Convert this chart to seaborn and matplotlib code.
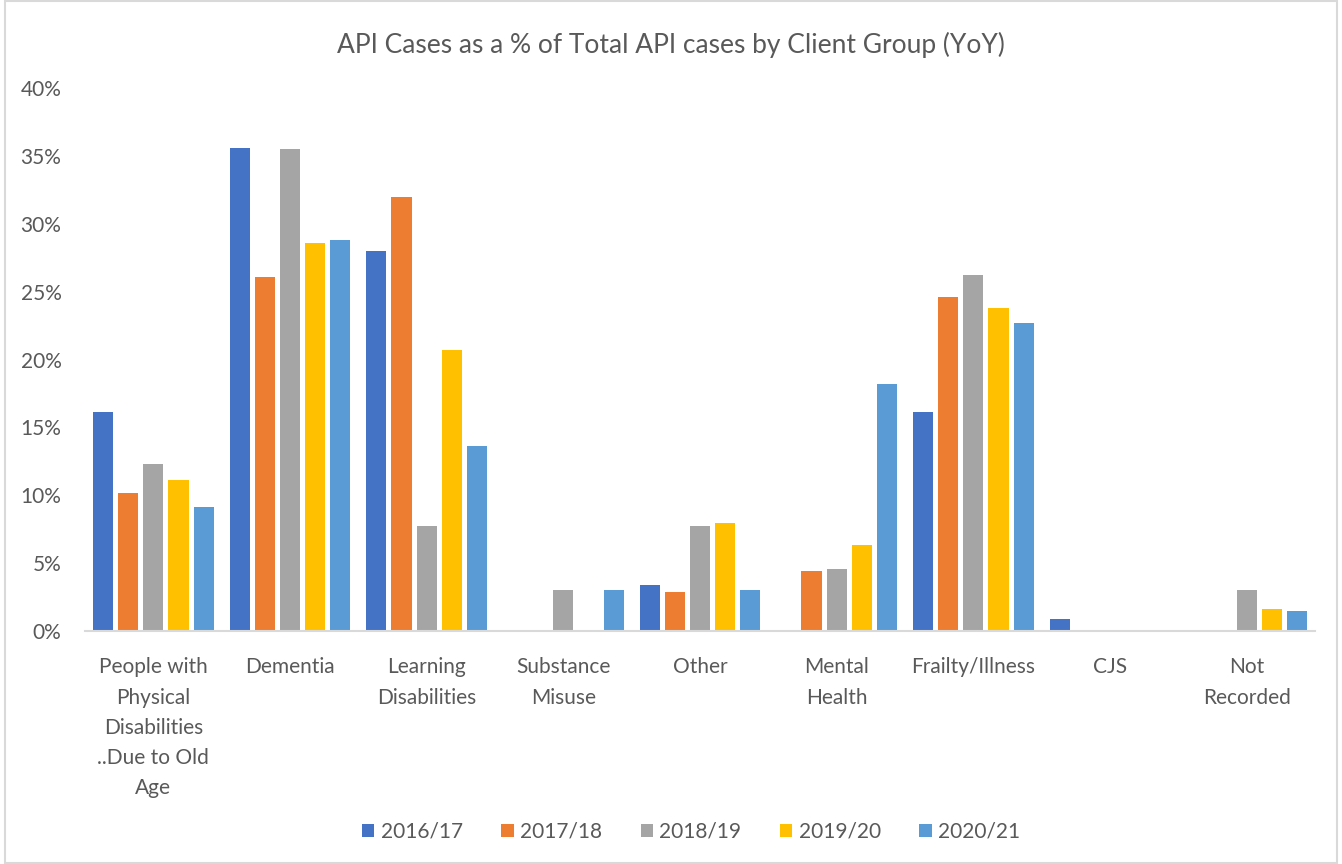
import pandas as pd
import seaborn as sns
import matplotlib.pyplot as plt
from matplotlib.patches import Rectangle
from matplotlib.ticker import FuncFormatter

# values, % of total API cases
groups = ["People with Physical Disabilities ..Due to Old Age", "Dementia",
          "Learning Disabilities", "Substance Misuse", "Other", "Mental Health",
          "Frailty/Illness", "CJS", "Not Recorded"]
tick_labels = ["People with\nPhysical\nDisabilities\n..Due to Old\nAge", "Dementia",
               "Learning\nDisabilities", "Substance\nMisuse", "Other", "Mental\nHealth",
               "Frailty/Illness", "CJS", "Not\nRecorded"]
years = ["2016/17", "2017/18", "2018/19", "2019/20", "2020/21"]
y2016 = [16.1, 35.6, 28.0, 0, 3.4, 0, 16.1, 0.86, 0]
y2017 = [10.2, 26.1, 32.0, 0, 2.9, 4.4, 24.6, 0, 0]
y2018 = [12.3, 35.5, 7.7, 3.05, 7.7, 4.6, 26.2, 0, 3.05]
y2019 = [11.1, 28.6, 20.7, 0, 7.95, 6.35, 23.8, 0, 1.6]
y2020 = [9.1, 28.8, 13.65, 3.05, 3.05, 18.2, 22.7, 0, 1.5]
colors = ["#4472C4", "#ED7D31", "#A5A5A5", "#FFC000", "#5B9BD5"]

series = [y2016, y2017, y2018, y2019, y2020]
df = pd.DataFrame({
    "group": groups * len(years),
    "year": [y for y in years for _ in groups],
    "pct": [v for s in series for v in s],
})

sns.set_theme(style="white")
plt.rcParams['font.family'] = ['Lato', 'DejaVu Sans']
text_col = "#595959"

fig = plt.figure(figsize=(13.42, 8.64), dpi=100)
ax = fig.add_axes([85 / 1342, 1 - 631 / 864, 1230 / 1342, 543 / 864])

sns.barplot(data=df, x="group", y="pct", hue="year", order=groups, hue_order=years,
            palette=colors, saturation=1, width=0.92, gap=0.2, linewidth=0, ax=ax, legend=True)

ax.set_ylim(0, 40)
ax.set_yticks(range(0, 41, 5))
ax.yaxis.set_major_formatter(FuncFormatter(lambda v, p: f"{v:.0f}%"))
ax.set_xticks(range(len(groups)))
ax.set_xticklabels(tick_labels, linespacing=1.64)
ax.tick_params(axis="x", length=0, pad=19, labelsize=15, labelcolor=text_col)
ax.tick_params(axis="y", length=0, pad=17, labelsize=15, labelcolor=text_col)
ax.set_xlabel("")
ax.set_ylabel("")
for s in ["top", "right", "left"]:
    ax.spines[s].set_visible(False)
ax.spines["bottom"].set_color("#D9D9D9")
ax.spines["bottom"].set_linewidth(1.5)
ax.grid(False)

handles, labels = ax.get_legend_handles_labels()
ax.get_legend().remove()
fig.legend(handles, labels, loc="center", bbox_to_anchor=(691 / 1342, 1 - 832 / 864),
           ncol=5, frameon=False, fontsize=15, labelcolor=text_col,
           handlelength=0.6, handleheight=0.6, handletextpad=0.3, columnspacing=1.85)

fig.text(671 / 1342, 1 - 45 / 864, "API Cases as a % of Total API cases by Client Group (YoY)",
         ha="center", va="center", fontsize=19, color=text_col)

fig.patches.append(Rectangle((5 / 1342, 1 / 864), 1332 / 1342, 862 / 864, transform=fig.transFigure,
                             fill=False, edgecolor="#D9D9D9", linewidth=1.5))

fig.savefig("out.png", dpi=100)
